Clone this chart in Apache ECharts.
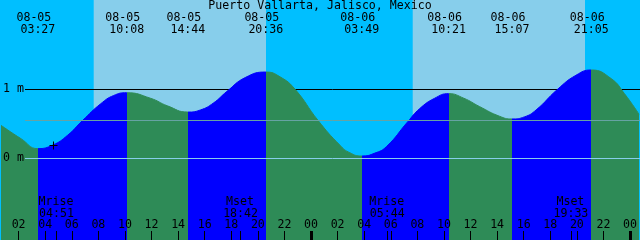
<!DOCTYPE html>
<html><head><meta charset="utf-8">
<script src="https://cdn.jsdelivr.net/npm/echarts@6/dist/echarts.min.js"></script>
<style>html,body{margin:0;padding:0;background:#00BFFF}#c{width:640px;height:240px}</style>
</head><body><div id="c"></div>
<script>
// ---------- data ----------
const stationName = 'Puerto Vallarta, Jalisco, Mexico';
const days = ['08-05', '08-06'];
// tide curve: hours since 08-05 00:00, level in metres
const tideHours  = [0.675, 2.175, 3.45, 4.55, 5.68, 6.80, 8.175, 9.15, 10.133, 11.925, 13.2, 14.733, 15.675, 16.65, 17.675, 19.05, 20.6, 21.675, 22.8, 24.525, 26.175, 26.925, 27.817, 28.8, 29.675, 31.275, 32.175, 33.3, 34.35, 35.5, 36.675, 38.175, 39.117, 40.05, 40.93, 42.525, 43.93, 45.083, 46.58, 47.58, 48.675];
const tideLevels = [0.478, 0.285, 0.14, 0.19, 0.333, 0.546, 0.79, 0.91, 0.95, 0.87, 0.76, 0.67, 0.70, 0.80, 0.97, 1.17, 1.25, 1.18, 1.0, 0.55, 0.19, 0.08, 0.033, 0.075, 0.17, 0.53, 0.72, 0.87, 0.937, 0.87, 0.75, 0.61, 0.57, 0.60, 0.70, 0.996, 1.203, 1.28, 1.155, 0.937, 0.638];
// high / low tide labels
const extremeDates = ['08-05', '08-05', '08-05', '08-05', '08-06', '08-06', '08-06', '08-06'];
const extremeTimes = ['03:27', '10:08', '14:44', '20:36', '03:49', '10:21', '15:07', '21:05'];
const extremeKinds = ['low', 'high', 'low', 'high', 'low', 'high', 'low', 'high'];
// moon events
const moonNames = ['Mrise', 'Mset', 'Mrise', 'Mset'];
const moonDates = ['08-05', '08-05', '08-06', '08-06'];
const moonTimes = ['04:51', '18:42', '05:44', '19:33'];
// sun
const sunDates    = ['08-05', '08-06'];
const sunriseTimes = ['07:39', '07:39'];
const sunsetTimes  = ['20:37', '20:37'];
// axis marks
const tickHours = [2, 4, 6, 8, 10, 12, 14, 16, 18, 20, 22, 24, 26, 28, 30, 32, 34, 36, 38, 40, 42, 44, 46, 48];
const midnightHours = [24, 48];
const levelMarks = [0, 1];
const meanLevel = 0.55;
const markHour = 4.55, markLevel = 0.19;

// ---------- helpers ----------
const hm = t => { const p = t.split(':').map(Number); return p[0] + p[1] / 60; };
const toHour = (d, t) => days.indexOf(d) * 24 + hm(t);
const pad = n => (n < 10 ? '0' : '') + n;
const extremeHours = extremeTimes.map((t, i) => toHour(extremeDates[i], t));
const moonHours = moonTimes.map((t, i) => toHour(moonDates[i], t));
const sunrise = sunriseTimes.map((t, i) => toHour(sunDates[i], t));
const sunset = sunsetTimes.map((t, i) => toHour(sunDates[i], t));

const X_MIN = 0.675, X_MAX = 48.675, Y_MIN = -1.184, Y_MAX = 2.294;
const FAM = '"DejaVu Sans Mono", monospace';
const FS = 11.6;
const FONT = FS + 'px ' + FAM;
const C_NIGHT = '#00BFFF', C_DAY = '#87CEEB', C_RISE = '#0000FF', C_FALL = '#2E8B57';

// background day/night bands
const bands = [];
let prev = X_MIN - 1;
for (let i = 0; i < sunrise.length; i++) {
  bands.push([prev, sunrise[i], 0]);
  bands.push([sunrise[i], sunset[i], 1]);
  prev = sunset[i];
}
bands.push([prev, X_MAX + 1, 0]);

// rise / fall pieces
const pieces = [];
let p0 = null;
extremeHours.forEach((h, i) => {
  const color = extremeKinds[i] === 'low' ? C_FALL : C_RISE;
  const pc = { lt: h, color };
  if (p0 !== null) pc.gte = p0;
  pieces.push(pc);
  p0 = h;
});
pieces.push({ gte: p0, color: extremeKinds[extremeKinds.length - 1] === 'high' ? C_FALL : C_RISE });

const txt = (text, x, y) => ({ type: 'text', style: { text, x, y, font: FONT, fill: '#000', align: 'center', verticalAlign: 'middle', textAlign: 'center', textVerticalAlign: 'middle' } });

const chart = echarts.init(document.getElementById('c'), null, { renderer: 'canvas' });
chart.setOption({
  animation: false,
  backgroundColor: C_NIGHT,
  title: { text: stationName, left: 'center', top: 0, padding: 0, z: 20,
    textStyle: { fontFamily: FAM, fontSize: FS, fontWeight: 'normal', color: '#000' } },
  grid: { left: 0, right: 0, top: 0, bottom: 0 },
  xAxis: { type: 'value', min: X_MIN, max: X_MAX, z: 20, position: 'bottom',
    axisLine: { show: false, onZero: false }, splitLine: { show: false },
    axisTick: { inside: true, length: 9, customValues: tickHours.concat(moonHours), lineStyle: { color: '#000', width: 1 } },
    axisLabel: { inside: true, margin: 9, customValues: tickHours, formatter: v => pad(Math.round(v) % 24),
      fontFamily: FAM, fontSize: FS, color: '#000' } },
  yAxis: { type: 'value', min: Y_MIN, max: Y_MAX, z: 20, position: 'left',
    axisLine: { show: false, onZero: false }, splitLine: { show: false }, axisTick: { show: false },
    axisLabel: { inside: true, margin: 2, customValues: levelMarks, formatter: v => v + ' m',
      fontFamily: FAM, fontSize: FS, color: '#000' } },
  visualMap: { type: 'piecewise', show: false, dimension: 0, seriesIndex: 2, pieces },
  series: [
    { type: 'custom', z: 0, silent: true, data: bands,
      renderItem: (params, api) => {
        const a = api.coord([api.value(0), Y_MAX]);
        const b = api.coord([api.value(1), Y_MIN]);
        return { type: 'rect', shape: { x: a[0], y: a[1], width: b[0] - a[0], height: b[1] - a[1] },
          style: { fill: api.value(2) ? C_DAY : C_NIGHT } };
      } },
    { type: 'custom', z: 1, silent: true, data: [[X_MIN, 1]],
      renderItem: (params, api) => {
        const y = Math.round(api.coord([X_MIN, api.value(1)])[1]) + 0.5;
        return { type: 'line', shape: { x1: 25, y1: y, x2: 640, y2: y }, style: { stroke: '#000', lineWidth: 1 } };
      } },
    { type: 'line', z: 2, silent: true, smooth: 0.5, showSymbol: false,
      data: tideHours.map((h, i) => [h, tideLevels[i]]),
      lineStyle: { width: 1 }, areaStyle: { opacity: 1, origin: 'start' } },
    { type: 'custom', z: 3, silent: true, data: [[X_MIN, levelMarks[0], 0], [X_MIN, meanLevel, 1]],
      renderItem: (params, api) => {
        const y = Math.round(api.coord([X_MIN, api.value(1)])[1]) + 0.5;
        return { type: 'line', shape: { x1: 25, y1: y, x2: 640, y2: y },
          style: { stroke: api.value(2) ? '#66a3a3' : '#87CEEB', lineWidth: 1 } };
      } },
    { type: 'custom', z: 4, silent: true, data: extremeHours.map(h => [h, 0]),
      renderItem: (params, api) => {
        const i = params.dataIndex;
        const x = api.coord([api.value(0), 0])[0];
        return { type: 'group', children: [txt(extremeDates[i], x - 4, 17.8), txt(extremeTimes[i], x, 29.8)] };
      } },
    { type: 'custom', z: 4, silent: true, data: moonHours.map(h => [h, 0]),
      renderItem: (params, api) => {
        const i = params.dataIndex;
        const x = api.coord([api.value(0), 0])[0];
        return { type: 'group', children: [txt(moonNames[i], x - 0.5, 202.3), txt(moonTimes[i], x, 214.3)] };
      } },
    { type: 'custom', z: 4, silent: true, data: [[markHour, markLevel]],
      renderItem: (params, api) => {
        const p = api.coord([api.value(0), api.value(1)]);
        const x = Math.round(p[0]) + 0.5, y = Math.round(p[1]) + 0.5;
        return { type: 'group', children: [
          { type: 'line', shape: { x1: x - 4, y1: y, x2: x + 4, y2: y }, style: { stroke: '#000', lineWidth: 1 } },
          { type: 'line', shape: { x1: x, y1: y - 4, x2: x, y2: y + 4 }, style: { stroke: '#000', lineWidth: 1 } }
        ] };
      } },
    { type: 'custom', z: 4, silent: true, data: midnightHours.map(h => [h, Y_MIN]),
      renderItem: (params, api) => {
        const p = api.coord([api.value(0), api.value(1)]);
        return { type: 'rect', shape: { x: Math.round(p[0]) - 1, y: p[1] - 9, width: 3, height: 9 }, style: { fill: '#000' } };
      } }
  ]
});
</script>
</body></html>
